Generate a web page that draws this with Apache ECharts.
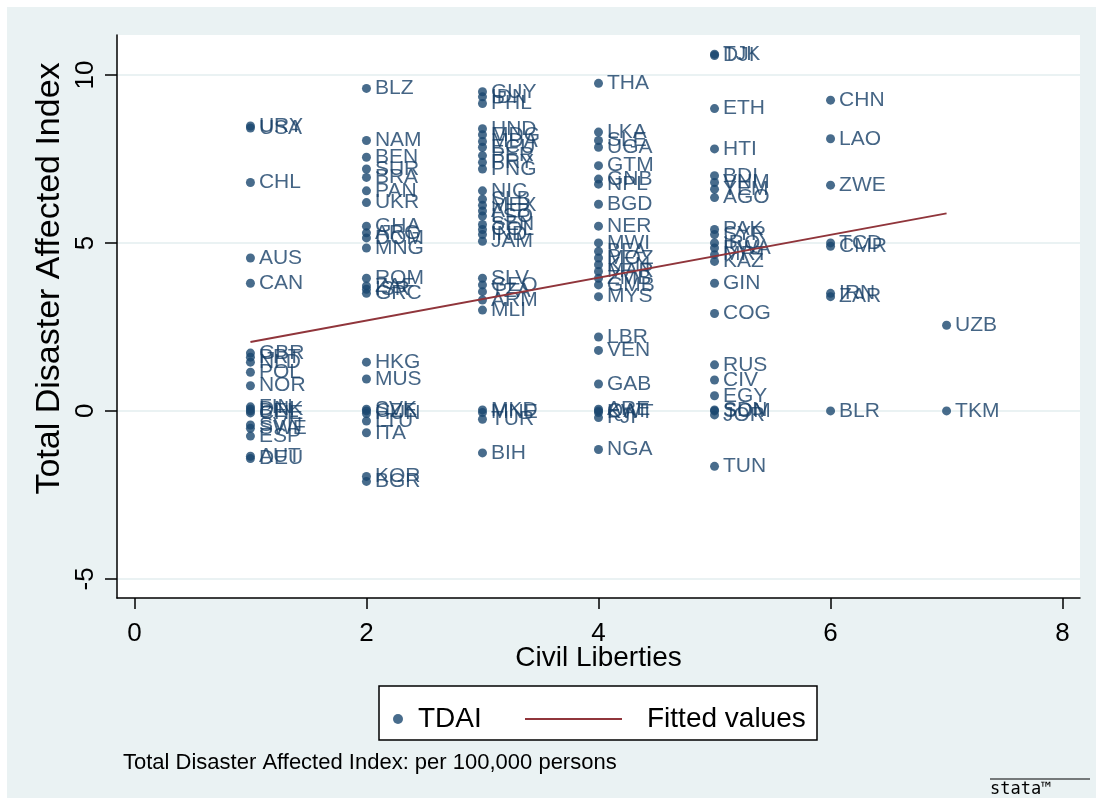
<!DOCTYPE html>
<html>
<head>
<meta charset="utf-8">
<script src="https://cdn.jsdelivr.net/npm/echarts@6/dist/echarts.min.js"></script>
<style>
html,body{margin:0;padding:0;background:#ffffff;}
#chart{width:1103px;height:805px;}
</style>
</head>
<body>
<div id="chart"></div>
<script>
// ---- Data (Civil Liberties vs Total Disaster Affected Index) ----
const countries = [
  'URY','USA','CHL','AUS','CAN','GBR','PRT','NLD','POL','NOR','FIN','DNK','BEL','CHE','SVN','SWE','ESP','AUT','DEU',
  'BLZ','NAM','BEN','SUR','BRA','PAN','UKR','GHA','ARG','DOM','MNG','ROM','ZAF','ISR','GRC','HKG','MUS','SVK','CZE','HUN','LTU','ITA','KOR','BGR',
  'GUY','IDN','PHL','HND','MDG','MDA','ECU','PER','PRY','PNG','NIC','SLB','MEX','ALB','LSO','SEN','COL','IND','JAM','SLV','GEO','TZA','ARM','MLI','MKD','MNE','TUR','BIH',
  'THA','LKA','SLE','UGA','GTM','GNB','NPL','BGD','NER','MWI','BFA','MOZ','KEN','MAR','ZMB','GMB','MYS','LBR','VEN','GAB','ARE','QAT','KWT','FJI','NGA',
  'TJK','DJI','ETH','HTI','BDI','VNM','YEM','AGO','PAK','SYR','IRQ','RWA','MRT','KAZ','GIN','COG','RUS','CIV','EGY','SDN','SOM','JOR','TUN',
  'CHN','LAO','ZWE','TCD','CMR','IRN','ZAR','BLR',
  'UZB','TKM'
];
const civLib = [
  1,1,1,1,1,1,1,1,1,1,1,1,1,1,1,1,1,1,1,
  2,2,2,2,2,2,2,2,2,2,2,2,2,2,2,2,2,2,2,2,2,2,2,2,
  3,3,3,3,3,3,3,3,3,3,3,3,3,3,3,3,3,3,3,3,3,3,3,3,3,3,3,3,
  4,4,4,4,4,4,4,4,4,4,4,4,4,4,4,4,4,4,4,4,4,4,4,4,4,
  5,5,5,5,5,5,5,5,5,5,5,5,5,5,5,5,5,5,5,5,5,5,5,
  6,6,6,6,6,6,6,6,
  7,7
];
const tdai = [
  8.48,8.42,6.8,4.55,3.8,1.72,1.6,1.45,1.15,0.75,0.12,0.06,0.0,-0.06,-0.42,-0.52,-0.75,-1.35,-1.42,
  9.6,8.05,7.55,7.2,6.95,6.55,6.2,5.5,5.3,5.15,4.85,3.95,3.72,3.62,3.5,1.45,0.95,0.05,0.0,-0.08,-0.3,-0.65,-1.95,-2.1,
  9.5,9.35,9.15,8.4,8.22,8.02,7.85,7.6,7.4,7.2,6.55,6.3,6.12,5.95,5.8,5.55,5.4,5.25,5.05,3.95,3.75,3.55,3.3,3.0,0.03,-0.05,-0.25,-1.25,
  9.75,8.3,8.05,7.85,7.3,6.9,6.75,6.15,5.5,5.0,4.75,4.55,4.35,4.15,3.95,3.75,3.4,2.2,1.8,0.8,0.05,0.0,-0.05,-0.2,-1.15,
  10.62,10.58,9.0,7.8,7.0,6.8,6.6,6.35,5.4,5.25,5.0,4.85,4.65,4.45,3.8,2.9,1.37,0.92,0.45,0.03,0.0,-0.12,-1.65,
  9.25,8.1,6.72,5.0,4.9,3.5,3.4,0.0,
  2.55,0.0
];
// Fitted values (linear fit line endpoints)
const fitX = [1, 7];
const fitY = [2.05, 5.88];
const xTicks = [0, 2, 4, 6, 8];
const yTicks = [-5, 0, 5, 10];

const FONT = '"Liberation Sans", Arial, sans-serif';
const NAVY = '#1a476f';
const LABEL_NAVY = '#163f66';
const MAROON = '#90353b';

const scatterData = countries.map((c, i) => [civLib[i], tdai[i], c]);
const fitData = fitX.map((x, i) => [x, fitY[i]]);

const chart = echarts.init(document.getElementById('chart'));
chart.setOption({
  backgroundColor: '#ffffff',
  animation: false,
  textStyle: { fontFamily: FONT },
  graphic: [
    { type: 'rect', z: -10, shape: { x: 7, y: 7, width: 1089, height: 791 }, style: { fill: '#eaf2f3' } },
    { type: 'rect', z: 10, shape: { x: 379, y: 686, width: 438, height: 54 }, style: { fill: '#ffffff', stroke: '#000000', lineWidth: 1.5 } },
    { type: 'text', z: 12, left: 123, top: 752, style: { text: 'Total Disaster Affected Index: per 100,000 persons', font: '22px ' + FONT, fill: '#000000' } },
    { type: 'line', z: 12, shape: { x1: 990, y1: 779, x2: 1090, y2: 779 }, style: { stroke: '#000000', lineWidth: 1 } },
    { type: 'text', z: 12, left: 990, top: 781, style: { text: 'stata™', font: '17px "DejaVu Sans Mono", monospace', fill: '#000000' } }
  ],
  grid: {
    left: 117, top: 35, right: 23, bottom: 207,
    show: true, backgroundColor: '#ffffff', borderWidth: 0
  },
  legend: [
    {
      data: [{ name: 'TDAI', icon: 'circle' }],
      left: 388, top: 700, itemWidth: 30, itemHeight: 10, z: 20,
      textStyle: { fontSize: 28, color: '#000', fontFamily: FONT },
      selectedMode: false
    },
    {
      data: [{ name: 'Fitted values', icon: 'rect' }],
      left: 520, top: 700, itemWidth: 97, itemHeight: 2, z: 20,
      textStyle: { fontSize: 28, color: '#000', fontFamily: FONT, padding: [0, 0, 0, 20] },
      selectedMode: false
    }
  ],
  xAxis: {
    type: 'value', min: -0.15, max: 8.15,
    name: 'Civil Liberties', nameLocation: 'middle', nameGap: 46, nameMoveOverlap: false,
    nameTextStyle: { fontSize: 28, color: '#000', fontFamily: FONT },
    axisLine: { show: true, onZero: false, lineStyle: { color: '#000', width: 1.5 } },
    axisTick: { show: true, length: 11, customValues: xTicks, lineStyle: { color: '#000', width: 1.5 } },
    axisLabel: { customValues: xTicks, fontSize: 26, color: '#000', margin: 23, fontFamily: FONT },
    splitLine: { show: false }
  },
  yAxis: {
    type: 'value', min: -5.57, max: 11.19,
    name: 'Total Disaster Affected Index', nameLocation: 'middle', nameGap: 50, nameRotate: 90, nameMoveOverlap: false,
    nameTextStyle: { fontSize: 34, color: '#000', fontFamily: FONT, padding: [0, 0, 0, 76] },
    axisLine: { show: true, onZero: false, lineStyle: { color: '#000', width: 1.5 } },
    axisTick: { show: true, length: 12, customValues: yTicks, lineStyle: { color: '#000', width: 1.5 } },
    axisLabel: { customValues: yTicks, fontSize: 26, color: '#000', margin: 18, rotate: 90, fontFamily: FONT },
    splitLine: { show: false }
  },
  series: [
    {
      name: 'TDAI', type: 'scatter', symbol: 'circle', symbolSize: 9,
      itemStyle: { color: NAVY },
      data: scatterData,
      label: {
        show: true, position: 'right', distance: 4,
        formatter: p => p.value[2],
        fontSize: 21, color: LABEL_NAVY, fontFamily: FONT
      },
      markLine: {
        silent: true, symbol: 'none', label: { show: false },
        lineStyle: { color: '#eaf2f3', width: 2, type: 'solid' },
        data: yTicks.map(v => ({ yAxis: v })),
        z: 0
      },
      z: 3
    },
    {
      name: 'Fitted values', type: 'line', symbol: 'none',
      lineStyle: { color: MAROON, width: 2 },
      itemStyle: { color: MAROON },
      data: fitData,
      z: 4
    }
  ]
});
</script>
</body>
</html>
